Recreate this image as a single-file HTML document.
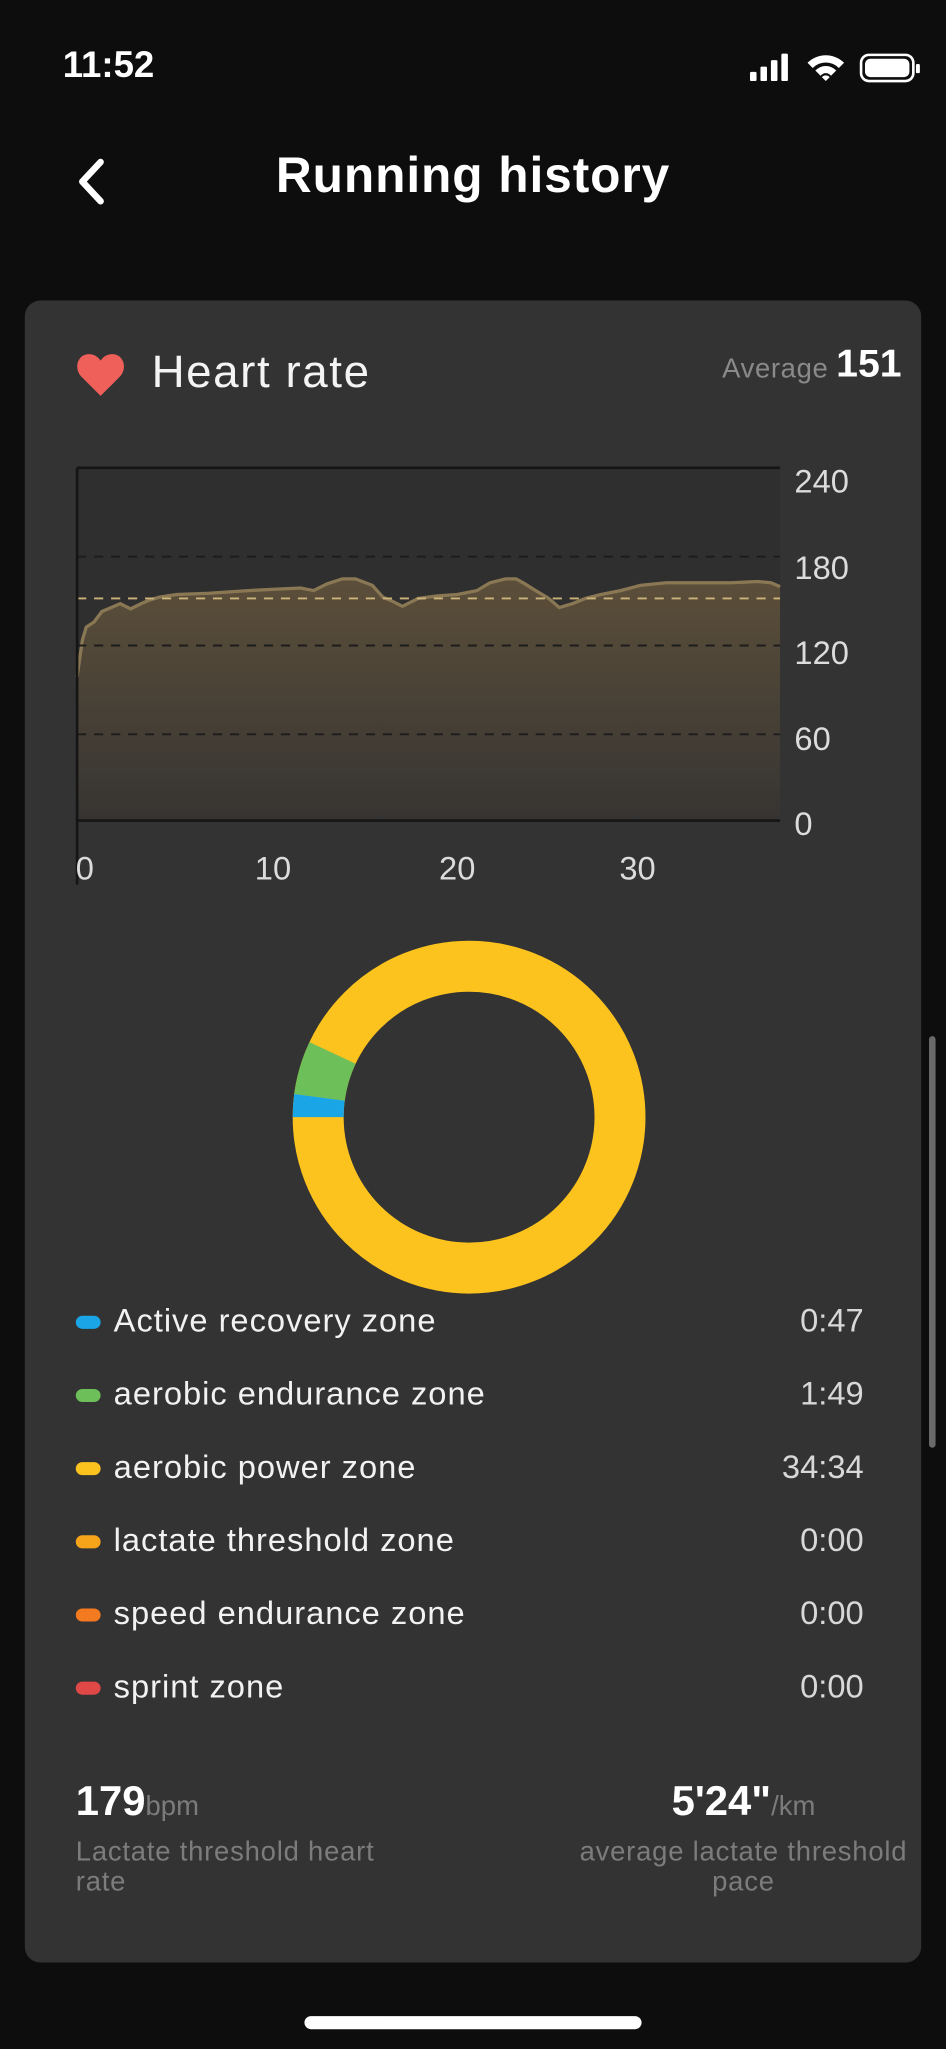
<!DOCTYPE html>
<html><head><meta charset="utf-8"><style>
html,body{margin:0;padding:0;background:#0d0d0d;}
body{width:946px;height:2048px;overflow:hidden;position:relative;font-family:"Liberation Sans",sans-serif;}
#w{position:absolute;left:0;top:0;width:724px;height:1568px;transform:scale(1.30663);transform-origin:0 0;color:#fff;}
.a{position:absolute;white-space:nowrap;}
.card{position:absolute;left:19px;top:230px;width:686px;height:1272px;background:#333333;border-radius:12px;}
.dot{position:absolute;left:58px;width:19px;height:10px;border-radius:5px;}
.lg{position:absolute;left:87px;font-size:25px;color:#f2f2f2;line-height:30px;letter-spacing:0.75px;}
.tm{position:absolute;right:63px;font-size:25px;color:#d8d8d8;line-height:30px;text-align:right;}
.tick{position:absolute;font-size:25px;color:#dcdcdc;line-height:30px;}
.sub{font-size:21px;color:#7c7c7c;line-height:23px;letter-spacing:0.6px;}
</style></head><body><div id="w">
<div class="a" style="left:48px;top:34px;font-size:28px;font-weight:bold;">11:52</div>
<svg class="a" style="left:572px;top:40px" width="135" height="26" viewBox="0 0 135 26">
<rect x="2" y="15" width="5" height="7" rx="1" fill="#fff"/><rect x="10" y="11" width="5" height="11" rx="1" fill="#fff"/><rect x="18" y="6" width="5" height="16" rx="1" fill="#fff"/><rect x="26" y="1" width="5" height="21" rx="1" fill="#fff"/>
<path d="M46 8 A20 20 0 0 1 74 8 L70 12 A14 14 0 0 0 50 12Z M52 14 A11 11 0 0 1 68 14 L64 18 A5 5 0 0 0 56 18Z M57 19 L60 22 L63 19 A4 4 0 0 0 57 19Z" fill="#fff"/>
<rect x="87" y="2" width="40" height="20" rx="6" fill="none" stroke="#fff" stroke-width="2"/><rect x="90" y="5" width="34" height="14" rx="4" fill="#fff"/><rect x="129" y="9" width="3" height="7" rx="1" fill="#fff"/>
</svg>
<svg class="a" style="left:55px;top:120px" width="30" height="38"><path d="M22 4 L8 19 L22 34" stroke="#fff" stroke-width="5" fill="none" stroke-linecap="round" stroke-linejoin="round"/></svg>
<div class="a" style="left:0;width:724px;text-align:center;top:114px;font-size:38px;font-weight:bold;letter-spacing:0.7px;">Running history</div>
<div class="card"></div>
<svg class="a" style="left:58px;top:270px" width="38" height="34" viewBox="0 0 38 34"><path d="M19 33 L4 18 C-2 11 2 1 10 1 C14 1 17 3 19 6 C21 3 24 1 28 1 C36 1 40 11 34 18Z" fill="#f0605a"/></svg>
<div class="a" style="left:116px;top:265px;font-size:35px;color:#f4f4f4;letter-spacing:1.2px;">Heart rate</div>
<div class="a" style="right:90px;top:271px;font-size:21px;color:#8a8a8a;letter-spacing:0.5px;">Average</div>
<div class="a" style="right:34px;top:262px;font-size:30px;font-weight:bold;">151</div>
<svg class="a" style="left:0;top:0" width="724" height="700">
<defs><linearGradient id="g" x1="0" y1="0" x2="0" y2="1"><stop offset="0" stop-color="#5c4f3a"/><stop offset="1" stop-color="#363432"/></linearGradient></defs>
<rect x="59" y="358" width="538" height="270" fill="#2f2f2f"/>
<path d="M59,518 L63,490 L66,480 L72,476 L78,468 L85,465 L92,462 L100,466 L108,462 L115,459 L122,457 L135,455 L160,454 L190,452 L210,451 L230,450 L240,452 L250,447 L262,443 L272,443 L285,448 L293,457 L300,460 L308,464 L320,458 L335,456 L350,455 L365,452 L375,446 L387,443 L395,443 L402,447 L410,452 L420,458 L428,465 L438,462 L448,458 L460,455 L475,452 L490,448 L510,446 L540,446 L560,446 L580,445 L590,446 L597,449 L597,628 L59,628Z" fill="url(#g)"/>
<path d="M59,518 L63,490 L66,480 L72,476 L78,468 L85,465 L92,462 L100,466 L108,462 L115,459 L122,457 L135,455 L160,454 L190,452 L210,451 L230,450 L240,452 L250,447 L262,443 L272,443 L285,448 L293,457 L300,460 L308,464 L320,458 L335,456 L350,455 L365,452 L375,446 L387,443 L395,443 L402,447 L410,452 L420,458 L428,465 L438,462 L448,458 L460,455 L475,452 L490,448 L510,446 L540,446 L560,446 L580,445 L590,446 L597,449" fill="none" stroke="#8a7854" stroke-width="2.5"/>
<g stroke="#1c1c1c" stroke-width="1.5" stroke-dasharray="7,6"><line x1="59" y1="426" x2="597" y2="426"/><line x1="59" y1="494" x2="597" y2="494"/><line x1="59" y1="562" x2="597" y2="562"/></g>
<line x1="59" y1="458" x2="597" y2="458" stroke="#cbb27a" stroke-width="1.5" stroke-dasharray="7,6"/>
<line x1="59" y1="358" x2="597" y2="358" stroke="#151515" stroke-width="2"/>
<line x1="59" y1="628" x2="597" y2="628" stroke="#151515" stroke-width="2"/>
<line x1="59" y1="358" x2="59" y2="677" stroke="#151515" stroke-width="2"/>
</svg>
<div class="tick" style="left:608px;top:354px">240</div>
<div class="tick" style="left:608px;top:420px">180</div>
<div class="tick" style="left:608px;top:485px">120</div>
<div class="tick" style="left:608px;top:551px">60</div>
<div class="tick" style="left:608px;top:616px">0</div>
<div class="tick" style="left:58px;top:650px">0</div>
<div class="tick" style="left:195px;top:650px">10</div>
<div class="tick" style="left:336px;top:650px">20</div>
<div class="tick" style="left:474px;top:650px">30</div>
<svg class="a" style="left:0;top:700px" width="724" height="310">
<circle cx="359" cy="155" r="115.5" fill="none" stroke="#fcc31e" stroke-width="39"/>
<g transform="rotate(180 359 155)">
<circle cx="359" cy="155" r="115.5" fill="none" stroke="#1aa6e6" stroke-width="39" stroke-dasharray="15.3 800"/>
<circle cx="359" cy="155" r="115.5" fill="none" stroke="#6dbf5a" stroke-width="39" stroke-dasharray="0 15.3 35.5 800"/>
</g>
</svg>
<div class="dot" style="top:1007px;background:#1aa6e6"></div><div class="lg" style="top:996px">Active recovery zone</div><div class="tm" style="top:996px">0:47</div>
<div class="dot" style="top:1063px;background:#6dbf5a"></div><div class="lg" style="top:1052px">aerobic endurance zone</div><div class="tm" style="top:1052px">1:49</div>
<div class="dot" style="top:1119px;background:#fcc31e"></div><div class="lg" style="top:1108px">aerobic power zone</div><div class="tm" style="top:1108px">34:34</div>
<div class="dot" style="top:1175px;background:#f8a41a"></div><div class="lg" style="top:1164px">lactate threshold zone</div><div class="tm" style="top:1164px">0:00</div>
<div class="dot" style="top:1231px;background:#f47a20"></div><div class="lg" style="top:1220px">speed endurance zone</div><div class="tm" style="top:1220px">0:00</div>
<div class="dot" style="top:1287px;background:#e04848"></div><div class="lg" style="top:1276px">sprint zone</div><div class="tm" style="top:1276px">0:00</div>
<div class="a" style="left:58px;top:1360px;font-size:32px;font-weight:bold;">179<span style="font-size:21px;font-weight:normal;color:#7c7c7c">bpm</span></div>
<div class="a sub" style="left:58px;top:1406px;">Lactate threshold heart<br>rate</div>
<div class="a" style="left:440px;width:258px;text-align:center;top:1360px;font-size:32px;font-weight:bold;">5'24"<span style="font-size:21px;font-weight:normal;color:#7c7c7c">/km</span></div>
<div class="a sub" style="left:420px;width:298px;text-align:center;top:1406px;">average lactate threshold<br>pace</div>
<div class="a" style="left:711px;top:793px;width:5px;height:315px;border-radius:3px;background:#6a6a6a"></div>
<div class="a" style="left:233px;top:1543px;width:258px;height:10px;border-radius:5px;background:#fff"></div>
</div></body></html>
